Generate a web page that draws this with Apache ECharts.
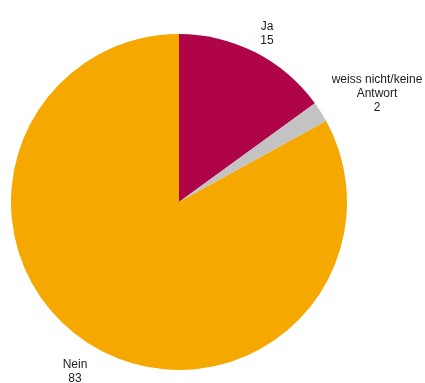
<!DOCTYPE html>
<html>
<head>
<meta charset="utf-8">
<script src="https://cdn.jsdelivr.net/npm/echarts@6/dist/echarts.min.js"></script>
<style>
  html, body { margin: 0; padding: 0; background: #fff; }
  #chart { width: 425px; height: 383px; }
</style>
</head>
<body>
<div id="chart"></div>
<script>
// Answer categories and their shares (percent)
const categories = ['Ja', 'weiss nicht/keine\nAntwort', 'Nein'];
const values = [15, 2, 83];
const colors = ['#AF0447', '#C3C3C3', '#F5A800'];

// Label anchor points (pixels) for each category
const labelSpots = [[267, 34], [377, 94], [75, 372]];

const chart = echarts.init(document.getElementById('chart'), null, { renderer: 'canvas' });
chart.setOption({
  animation: false,
  series: [{
    type: 'pie',
    center: [179, 202],
    radius: [0, 168],
    startAngle: 90,
    clockwise: true,
    data: categories.map((c, i) => ({
      name: c, value: values[i], itemStyle: { color: colors[i] }
    })),
    label: {
      show: true,
      position: 'outside',
      formatter: '{b}\n{c}',
      fontFamily: 'Liberation Sans, Arial, sans-serif',
      fontSize: 12,
      lineHeight: 14,
      color: '#222',
      align: 'center',
      overflow: 'none',
      width: 200
    },
    labelLine: { show: false },
    labelLayout: function (p) {
      const s = labelSpots[p.dataIndex];
      return { x: s[0], y: s[1], align: 'center', verticalAlign: 'middle' };
    },
    emphasis: { disabled: true }
  }]
});
</script>
</body>
</html>
